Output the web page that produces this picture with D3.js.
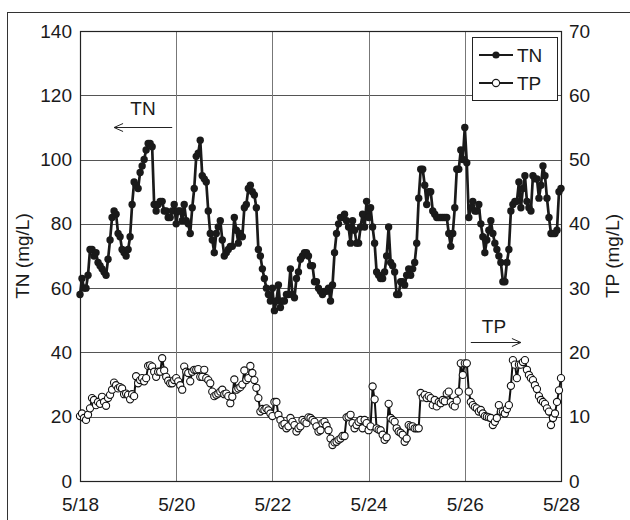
<!DOCTYPE html>
<html>
<head>
<meta charset="utf-8">
<script src="https://cdn.jsdelivr.net/npm/d3@7"></script>
<style>
  html, body { margin: 0; padding: 0; background: #fff; }
  svg { display: block; font-family: "Liberation Sans", Arial, sans-serif; }
</style>
</head>
<body>
<svg id="chart" width="630" height="520"></svg>
<script>
// ---- DATA (hourly readings from 5/18 00:00 to 5/28 00:00) ----
const startDate = new Date(2010, 4, 18, 0, 0);
const endDate = new Date(2010, 4, 28, 0, 0);
const xTickLabels = ["5/18", "5/20", "5/22", "5/24", "5/26", "5/28"];
const tnTicks = [0, 20, 40, 60, 80, 100, 120, 140];
const tpTicks = [0, 10, 20, 30, 40, 50, 60, 70];
const seriesNames = ["TN", "TP"];

const tnValues = [
  58, 63, 60, 60, 64, 72, 72, 70, 71, 68, 67, 66, 65, 64, 69, 75, 82, 84, 83, 77,
  76, 72, 71, 70, 72, 76, 86, 93, 92, 91, 96, 98, 100, 103, 105, 105, 104, 86, 84, 86,
  87, 87, 84, 84, 82, 82, 84, 86, 80, 84, 84, 81, 86, 81, 80, 77, 85, 91, 101, 102,
  106, 95, 94, 93, 84, 77, 75, 71, 77, 79, 81, 75, 70, 71, 72, 73, 73, 82, 78, 74,
  77, 76, 85, 86, 91, 92, 90, 89, 85, 72, 70, 66, 63, 60, 58, 56, 60, 53, 56, 61,
  54, 56, 56, 58, 58, 66, 58, 57, 63, 65, 69, 70, 71, 71, 70, 67, 67, 62, 62, 60,
  59, 58, 59, 59, 60, 56, 61, 71, 77, 80, 82, 82, 83, 81, 79, 74, 81, 78, 74, 74,
  79, 83, 79, 87, 82, 85, 79, 74, 65, 64, 63, 63, 65, 70, 79, 68, 67, 65, 58, 58,
  62, 62, 61, 64, 66, 64, 66, 68, 74, 88, 97, 97, 92, 86, 90, 90, 84, 83, 82, 82,
  82, 82, 82, 82, 77, 73, 77, 85, 97, 97, 103, 100, 110, 99, 82, 85, 87, 84, 84, 86,
  80, 76, 71, 75, 78, 81, 77, 74, 72, 70, 68, 62, 62, 68, 72, 84, 86, 87, 87, 93,
  85, 91, 95, 87, 85, 84, 95, 94, 94, 88, 92, 98, 95, 88, 82, 77, 77, 77, 78, 90,
  91
];

const tpValues = [
  10.1, 10.5, 9.8, 9.5, 10.3, 11.3, 12.9, 12.6, 11.8, 12.3, 12.0, 13.1, 12.3, 11.7, 12.9, 13.4, 14.2, 15.3, 14.9, 14.4,
  14.6, 14.4, 13.5, 13.6, 13.4, 12.7, 13.5, 13.2, 16.3, 15.2, 15.7, 16.0, 15.5, 16.0, 17.9, 18.0, 17.8, 17.0, 16.2, 17.0,
  17.0, 19.1, 17.2, 16.2, 15.6, 15.2, 15.2, 15.7, 16.0, 15.5, 14.9, 14.2, 17.8, 17.0, 16.8, 15.5, 17.0, 17.3, 17.3, 17.4,
  16.2, 16.2, 17.3, 16.0, 15.7, 15.2, 13.9, 13.2, 13.4, 13.6, 13.9, 14.2, 13.5, 13.6, 13.2, 12.1, 13.1, 15.8, 14.2, 14.4,
  14.6, 15.0, 17.2, 15.7, 16.0, 17.9, 16.8, 15.7, 14.5, 12.9, 10.8, 11.2, 11.05, 11.3, 11.0, 10.5, 10.1, 12.3, 12.3, 10.3,
  9.5, 8.7, 8.9, 8.2, 8.5, 9.8, 9.2, 8.7, 7.7, 8.2, 8.5, 9.5, 9.2, 9.0, 9.9, 9.8, 9.5, 9.2, 8.5, 7.7,
  7.9, 9.0, 9.2, 8.6, 7.9, 6.6, 5.6, 6.0, 6.1, 6.4, 6.6, 7.0, 7.0, 9.9, 10.0, 10.3, 9.0, 8.2, 8.7, 9.2,
  9.5, 8.2, 9.5, 9.0, 7.9, 8.5, 14.7, 12.7, 8.2, 8.0, 7.9, 7.2, 6.4, 6.8, 12.0, 9.8, 9.5, 9.2, 8.2, 7.7,
  7.5, 7.2, 6.1, 6.6, 8.7, 8.5, 8.5, 8.2, 8.2, 8.2, 13.7, 13.0, 13.4, 12.9, 13.2, 12.9, 11.8, 12.6, 11.6, 12.3,
  12.1, 12.6, 12.4, 13.6, 13.9, 12.3, 11.8, 11.6, 12.5, 13.9, 18.3, 16.5, 18.3, 18.3, 13.9, 12.3, 11.8, 11.5, 11.3, 10.8,
  11.05, 10.5, 10.1, 10.0, 9.9, 9.8, 8.7, 9.2, 9.8, 11.8, 10.8, 10.8, 10.5, 11.2, 11.8, 14.8, 18.8, 18.1, 16.0, 18.1,
  18.1, 18.5, 18.8, 17.3, 16.5, 16.0, 15.7, 14.9, 14.3, 13.2, 12.6, 12.3, 12.0, 11.3, 10.8, 8.7, 9.8, 10.5, 12.3, 14.1,
  16.0
];

// ---- CHART ----
const svg = d3.select("#chart");
const margin = { left: 80, right: 69, top: 31, bottom: 39 };
const W = 630, H = 520;
const x0 = margin.left, x1 = W - margin.right;
const y0 = H - margin.bottom, y1 = margin.top;

const x = d3.scaleTime().domain([startDate, endDate]).range([x0, x1]);
const yL = d3.scaleLinear().domain([0, 140]).range([y0, y1]);
const yR = d3.scaleLinear().domain([0, 70]).range([y0, y1]);

const timeOf = i => d3.timeHour.offset(startDate, i);
const tnData = tnValues.map((v, i) => ({ t: timeOf(i), v }));
const tpData = tpValues.map((v, i) => ({ t: timeOf(i), v }));
const xTickDates = xTickLabels.map(s => {
  const [m, d] = s.split("/").map(Number);
  return new Date(2010, m - 1, d);
});

// outer frame
svg.append("rect")
  .attr("x", 7.5).attr("y", 12.5)
  .attr("width", 700).attr("height", 600)
  .attr("fill", "none").attr("stroke", "#333").attr("stroke-width", 1);

// gridlines
const grid = svg.append("g");
grid.selectAll("line.h").data(tnTicks.slice(1, -1)).join("line")
  .attr("x1", x0).attr("x2", x1)
  .attr("y1", d => Math.round(yL(d)) + 0.5).attr("y2", d => Math.round(yL(d)) + 0.5)
  .attr("stroke", "#555").attr("stroke-width", 1);
grid.selectAll("line.v").data(xTickDates.slice(1, -1)).join("line")
  .attr("y1", y0).attr("y2", y1)
  .attr("x1", d => Math.round(x(d)) + 0.5).attr("x2", d => Math.round(x(d)) + 0.5)
  .attr("stroke", "#777").attr("stroke-width", 1);

// plot border
svg.append("rect")
  .attr("x", x0 + 0.5).attr("y", y1 + 0.5)
  .attr("width", x1 - x0).attr("height", y0 - y1)
  .attr("fill", "none").attr("stroke", "#222").attr("stroke-width", 1.2);

const fs = 19;
function styleAxis(g) {
  g.select(".domain").remove();
  g.selectAll("text").attr("font-size", fs).attr("fill", "#1a1a1a")
    .attr("font-family", "'Liberation Sans', Arial, sans-serif");
}

svg.append("g").attr("transform", `translate(${x0},0)`)
  .call(d3.axisLeft(yL).tickValues(tnTicks).tickSize(0).tickPadding(8))
  .call(styleAxis);
svg.append("g").attr("transform", `translate(${x1},0)`)
  .call(d3.axisRight(yR).tickValues(tpTicks).tickSize(0).tickPadding(8))
  .call(styleAxis);
svg.append("g").attr("transform", `translate(0,${y0})`)
  .call(d3.axisBottom(x).tickValues(xTickDates).tickSize(0).tickPadding(17)
    .tickFormat((d, i) => xTickLabels[i]))
  .call(styleAxis);

// axis titles
svg.append("text")
  .attr("transform", `translate(29,${(y0 + y1) / 2}) rotate(-90)`)
  .attr("text-anchor", "middle").attr("font-size", fs).attr("fill", "#1a1a1a")
  .text("TN (mg/L)");
svg.append("text")
  .attr("transform", `translate(619,${(y0 + y1) / 2}) rotate(-90)`)
  .attr("text-anchor", "middle").attr("font-size", fs).attr("fill", "#1a1a1a")
  .text("TP (mg/L)");

// TP series (open circles)
const lineTP = d3.line().x(d => x(d.t)).y(d => yR(d.v));
svg.append("path").datum(tpData)
  .attr("d", lineTP).attr("fill", "none")
  .attr("stroke", "#111").attr("stroke-width", 2).attr("stroke-linejoin", "round");
svg.append("g").selectAll("circle").data(tpData).join("circle")
  .attr("cx", d => x(d.t)).attr("cy", d => yR(d.v)).attr("r", 3.6)
  .attr("fill", "#fff").attr("stroke", "#111").attr("stroke-width", 1.1);

// TN series (filled circles)
const lineTN = d3.line().x(d => x(d.t)).y(d => yL(d.v));
svg.append("path").datum(tnData)
  .attr("d", lineTN).attr("fill", "none")
  .attr("stroke", "#1a1a1a").attr("stroke-width", 2.7).attr("stroke-linejoin", "round");
svg.append("g").selectAll("circle").data(tnData).join("circle")
  .attr("cx", d => x(d.t)).attr("cy", d => yL(d.v)).attr("r", 3.7)
  .attr("fill", "#1a1a1a");

// annotations with arrows
function arrow(xa, xb, y, headAtEnd) {
  svg.append("line").attr("x1", xa).attr("x2", xb).attr("y1", y).attr("y2", y)
    .attr("stroke", "#222").attr("stroke-width", 1);
  const hx = headAtEnd ? xb : xa;
  const dir = headAtEnd ? -1 : 1;
  svg.append("path")
    .attr("d", `M${hx + dir * 9},${y - 4} L${hx},${y} L${hx + dir * 9},${y + 4}`)
    .attr("fill", "none").attr("stroke", "#222").attr("stroke-width", 1);
}
svg.append("text").attr("x", 143).attr("y", 115).attr("text-anchor", "middle")
  .attr("font-size", fs).attr("fill", "#1a1a1a").text("TN");
arrow(x(new Date(2010, 4, 18, 17)), x(new Date(2010, 4, 19, 22)), 127.5, false);
svg.append("text").attr("x", 494).attr("y", 333).attr("text-anchor", "middle")
  .attr("font-size", fs).attr("fill", "#1a1a1a").text("TP");
arrow(x(new Date(2010, 4, 26, 3)), x(new Date(2010, 4, 27, 4)), 342.5, true);

// legend
const lg = svg.append("g");
lg.append("rect").attr("x", 472.5).attr("y", 37.5).attr("width", 85).attr("height", 63)
  .attr("fill", "#fff").attr("stroke", "#222").attr("stroke-width", 1);
seriesNames.forEach((name, i) => {
  const yy = 55 + i * 28;
  lg.append("line").attr("x1", 479).attr("x2", 513).attr("y1", yy).attr("y2", yy)
    .attr("stroke", "#1a1a1a").attr("stroke-width", 2.2);
  lg.append("circle").attr("cx", 496).attr("cy", yy).attr("r", i === 0 ? 3.6 : 3.6)
    .attr("fill", i === 0 ? "#1a1a1a" : "#fff").attr("stroke", "#1a1a1a")
    .attr("stroke-width", i === 0 ? 0 : 1.1);
  lg.append("text").attr("x", 517).attr("y", yy + 7)
    .attr("font-size", fs).attr("fill", "#1a1a1a").text(name);
});
</script>
</body>
</html>
